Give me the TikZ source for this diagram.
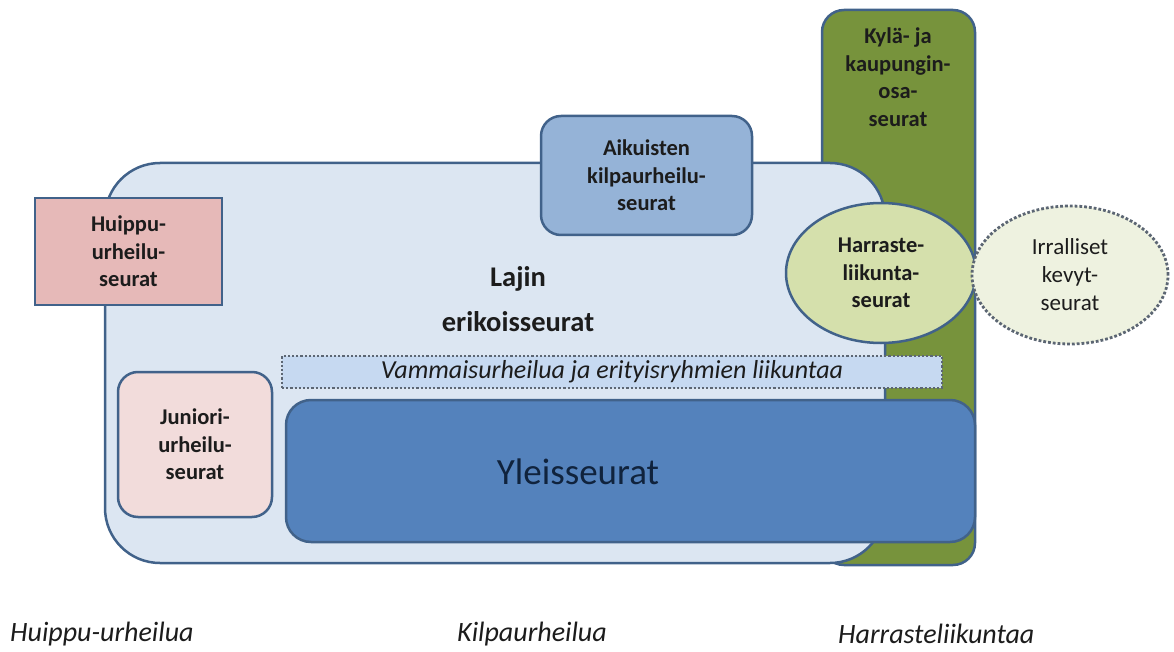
\documentclass[tikz,border=0pt]{standalone}
\usepackage{fontspec}
\setmainfont{Carlito}
\usetikzlibrary{shapes.geometric}
\definecolor{bordc}{HTML}{41628A}
\definecolor{bigfill}{HTML}{DCE6F2}
\definecolor{greenbar}{HTML}{77933C}
\definecolor{huipfill}{HTML}{E6B9B8}
\definecolor{junfill}{HTML}{F2DCDB}
\definecolor{aikfill}{HTML}{95B3D7}
\definecolor{yleisfill}{HTML}{5482BC}
\definecolor{vamfill}{HTML}{C6D9F1}
\definecolor{harfill}{HTML}{D5E0AC}
\definecolor{irrfill}{HTML}{EEF2E0}
\definecolor{dotc}{HTML}{5C6673}
\definecolor{txt}{HTML}{1C1C1C}
\definecolor{navy}{HTML}{10233D}
\tikzset{
  box/.style={draw=bordc, line width=2.5pt, inner sep=0pt, text=txt, align=center},
  boldtxt/.style={font=\fontsize{22.5}{27.5}\selectfont\bfseries},
  axis/.style={font=\fontsize{28}{34}\selectfont\itshape, text=txt, anchor=west, inner sep=0pt}
}
\begin{document}
\begin{tikzpicture}[x=1pt,y=-1pt]
\useasboundingbox (0,0) rectangle (1174,652);
% green bar
\node[box, fill=greenbar, rounded corners=22pt, minimum width=153pt, minimum height=555pt] (kyla) at (898.5,287.5) {};
\node[boldtxt, text=txt, align=center, inner sep=0pt] (kylatxt) at (898,77) {Kylä- ja\\kaupungin-\\osa-\\seurat};
% big box
\node[box, fill=bigfill, rounded corners=55pt, minimum width=780pt, minimum height=400pt] (laji) at (495,363) {};
\node[font=\fontsize{28.5}{45}\selectfont\bfseries, text=txt, align=center, inner sep=0pt] (lajitxt) at (518,299) {Lajin\\erikoisseurat};
% Huippu
\node[box, boldtxt, fill=huipfill, minimum width=187pt, minimum height=107pt] (huip) at (128.5,251.5) {Huippu-\\urheilu-\\seurat};
% Aikuisten
\node[box, boldtxt, fill=aikfill, rounded corners=20pt, minimum width=211pt, minimum height=119pt] (aik) at (646.5,175.5) {Aikuisten\\kilpaurheilu-\\seurat};
% Vammais
\node[draw=dotc, line width=2.2pt, dotted, fill=vamfill, minimum width=660pt, minimum height=32pt, inner sep=0pt, font=\fontsize{26}{28}\selectfont\itshape, text=txt] (vam) at (612,372) {Vammaisurheilua ja erityisryhmien liikuntaa};
% Juniori
\node[box, boldtxt, fill=junfill, rounded corners=20pt, minimum width=154pt, minimum height=145pt] (jun) at (195,444.5) {Juniori-\\urheilu-\\seurat};
% Yleisseurat
\node[box, fill=yleisfill, rounded corners=25pt, minimum width=689pt, minimum height=142pt] (yleis) at (630.5,471) {};
\node[font=\fontsize{37}{40}\selectfont, text=navy, inner sep=0pt] (yleistxt) at (578,472) {Yleisseurat};
% Harraste
\node[ellipse, box, boldtxt, fill=harfill, minimum width=190pt, minimum height=140pt] (har) at (881,273) {Harraste-\\liikunta-\\seurat};
% Irralliset
\node[ellipse, draw=dotc, line width=2.8pt, dotted, fill=irrfill, minimum width=196pt, minimum height=138pt, inner sep=0pt, align=center, text=txt, font=\fontsize{23}{28}\selectfont] (irr) at (1070,275) {Irralliset\\kevyt-\\seurat};
% bottom axis labels
\node[axis] (ax1) at (10,634) {Huippu-urheilua};
\node[axis] (ax2) at (457,634) {Kilpaurheilua};
\node[axis] (ax3) at (838,634) {Harrasteliikuntaa};
\end{tikzpicture}
\end{document}
